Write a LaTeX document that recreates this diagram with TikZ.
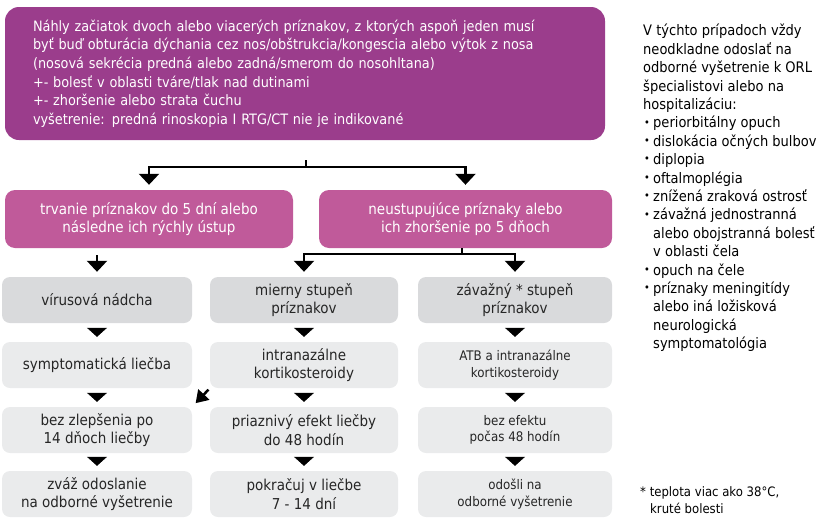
\documentclass[tikz,border=0pt]{standalone}
\usepackage{fontspec}
\setmainfont{DejaVu Sans Condensed}
\usetikzlibrary{arrows.meta}

\definecolor{onsetviolet}{HTML}{9B3D8C}
\definecolor{splitpink}{HTML}{C05A9A}
\definecolor{greydark}{HTML}{D9DADC}
\definecolor{greylight}{HTML}{EAEBEC}
\definecolor{boxtext}{HTML}{262626}

\newcommand{\bul}{\makebox[10pt][l]{\hspace*{1pt}\raisebox{0.12em}{\scalebox{0.75}{\textbullet}}}}
\newcommand{\cont}{\hspace*{10pt}}

\tikzset{
  onsetbox/.style={fill=onsetviolet, rounded corners=14pt, text=white, align=left,
    inner xsep=28pt, inner ysep=0pt, font=\fontsize{14.3}{18.6}\selectfont},
  splitbox/.style={fill=splitpink, rounded corners=10pt, text=white, align=center,
    minimum height=58pt, inner sep=0pt},
  stagebox/.style={fill=greylight, rounded corners=8pt, text=boxtext, align=center,
    minimum height=46pt, inner sep=0pt},
  firstbox/.style={stagebox, fill=greydark},
  smalltext/.style={font=\fontsize{13.2}{16.5}\selectfont},
  trunk/.style={line width=2.2pt},
  branch/.style={line width=2.2pt, -{Triangle[width=20pt,length=11pt]}},
  stepdown/.style={line width=0.4pt, -{Triangle[width=20pt,length=9pt]},
    shorten <=5pt, shorten >=5pt},
  slant/.style={line width=2.5pt, -{Triangle[width=15pt,length=12pt]},
    shorten <=2pt, shorten >=5pt},
}

\begin{document}
\begin{tikzpicture}[x=1pt, y=-1pt, font=\fontsize{15}{18.6}\selectfont]
\useasboundingbox (0,0) rectangle (825,517);

% onset of symptoms
\node[onsetbox, minimum width=600pt, minimum height=133pt, text width=544pt] (onset) at (305,73.5)
  {Náhly začiatok dvoch alebo viacerých príznakov, z ktorých aspoň jeden musí\\
   byť buď obturácia dýchania cez nos/obštrukcia/kongescia alebo výtok z nosa\\
   (nosová sekrécia predná alebo zadná/smerom do nosohltana)\\
   +- bolesť v oblasti tváre/tlak nad dutinami\\
   +- zhoršenie alebo strata čuchu\\
   vyšetrenie: predná rinoskopia I RTG/CT nie je indikované};

% duration
\node[splitbox, minimum width=288pt] (acute) at (149,219)
  {trvanie príznakov do 5 dní alebo\\následne ich rýchly ústup};
\node[splitbox, minimum width=293pt] (persist) at (465.5,219)
  {neustupujúce príznaky alebo\\ich zhoršenie po 5 dňoch};

% three columns
\node[firstbox, minimum width=190pt] (r1c1) at (97,300) {vírusová nádcha};
\node[stagebox, minimum width=190pt] (r2c1) at (97,365) {symptomatická liečba};
\node[stagebox, minimum width=190pt] (r3c1) at (97,430) {bez zlepšenia po\\14 dňoch liečby};
\node[stagebox, minimum width=190pt] (r4c1) at (97,494) {zváž odoslanie\\na odborné vyšetrenie};

\node[firstbox, minimum width=188pt] (r1c2) at (304,300) {mierny stupeň\\príznakov};
\node[stagebox, minimum width=188pt] (r2c2) at (304,365) {intranazálne\\kortikosteroidy};
\node[stagebox, minimum width=188pt] (r3c2) at (304,430) {priaznivý efekt liečby\\do 48 hodín};
\node[stagebox, minimum width=188pt] (r4c2) at (304,494) {pokračuj v liečbe\\7 - 14 dní};

\node[firstbox, minimum width=194pt] (r1c3) at (515,300) {závažný * stupeň\\príznakov};
\node[stagebox, smalltext, minimum width=194pt] (r2c3) at (515,365) {ATB a intranazálne\\kortikosteroidy};
\node[stagebox, smalltext, minimum width=194pt] (r3c3) at (515,430) {bez efektu\\počas 48 hodín};
\node[stagebox, smalltext, minimum width=194pt] (r4c3) at (515,494) {odošli na\\odborné vyšetrenie};

% connectors
\coordinate (fork) at (306,167);
\draw[trunk, shorten <=20pt] (onset.south -| fork) -- (fork);
\draw[branch, shorten >=5pt] (fork) -| (acute);
\draw[branch, shorten >=5pt] (fork) -| (persist);

\coordinate (fork2) at (462,254);
\draw[trunk] (persist.south -| fork2) -- (fork2);
\draw[branch, shorten >=5pt] (fork2) -| (r1c2);
\draw[branch, shorten >=5pt] (fork2) -| (r1c3);
\draw[branch, shorten <=7pt, shorten >=5pt] (acute.south -| r1c1) -- (r1c1);

\foreach \c in {1,2,3} {
  \draw[stepdown] (r1c\c) -- (r2c\c);
  \draw[stepdown] (r2c\c) -- (r3c\c);
  \draw[stepdown] (r3c\c) -- (r4c\c);
}
\draw[slant] (r2c2.south west) -- (r3c1.north east);

% referral list
\node[anchor=north west, align=left, inner sep=0pt, font=\fontsize{14.5}{18.4}\selectfont] (urgent) at (643,24)
  {V týchto prípadoch vždy\\
   neodkladne odoslať na\\
   odborné vyšetrenie k ORL\\
   špecialistovi alebo na\\
   hospitalizáciu:\\
   \bul periorbitálny opuch\\
   \bul dislokácia očných bulbov\\
   \bul diplopia\\
   \bul oftalmoplégia\\
   \bul znížená zraková ostrosť\\
   \bul závažná jednostranná\\
   \cont alebo obojstranná bolesť\\
   \cont v oblasti čela\\
   \bul opuch na čele\\
   \bul príznaky meningitídy\\
   \cont alebo iná ložisková\\
   \cont neurologická\\
   \cont symptomatológia};

\node[anchor=north west, align=left, inner sep=0pt, font=\fontsize{13}{17}\selectfont] (footnote) at (640,486)
  {* teplota viac ako 38°C,\\\cont kruté bolesti};
\end{tikzpicture}
\end{document}
